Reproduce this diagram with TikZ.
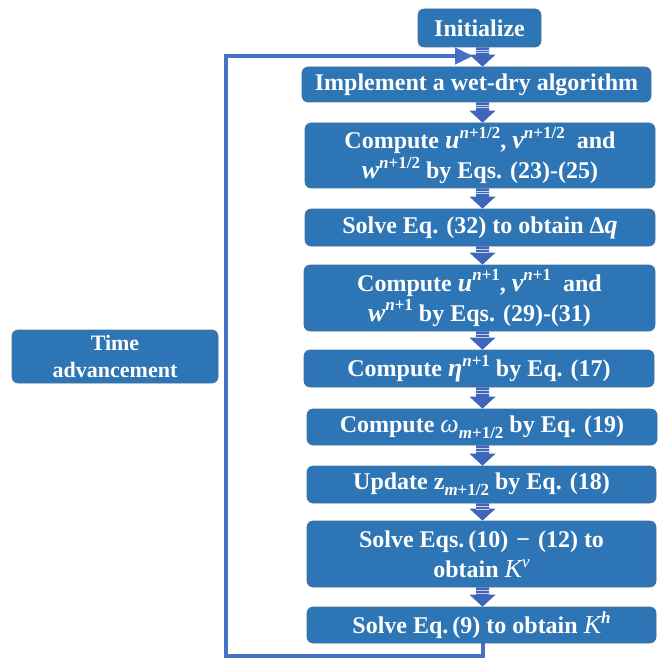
\documentclass[tikz,border=0pt]{standalone}
\usepackage{fontspec}
\setmainfont{Liberation Serif}
\usetikzlibrary{calc,arrows.meta}
\definecolor{boxfill}{RGB}{46,117,182}
\definecolor{boxline}{RGB}{65,113,156}
\definecolor{arrc}{RGB}{63,102,184}
\definecolor{loopc}{RGB}{68,114,196}
\newcommand\bi[1]{{\fontsize{26}{29}\selectfont\bfseries\itshape #1}}
\newcommand\si[1]{{\bfseries\itshape #1}}
\newcommand\sps[1]{\raisebox{0.42em}{\fontsize{17}{19}\selectfont\bfseries #1}}
\newcommand\sbs[1]{\raisebox{-0.25em}{\fontsize{17}{19}\selectfont\bfseries #1}}
\newcommand\blockarr[2]{%
  \fill[arrc] let \p1=(#1.south), \p2=(#2.north) in
    (476pt,\y1) -- (489pt,\y1) -- (489pt,{\y2+12pt}) -- (495.5pt,{\y2+12pt})
    -- (482.5pt,\y2) -- (469.5pt,{\y2+12pt}) -- (476pt,{\y2+12pt}) -- cycle;
  \draw[white!70!arrc,line width=0.6pt] let \p1=(#1.south) in
    (476pt,{\y1-3pt}) -- (489pt,{\y1-3pt})
    (476pt,{\y1-5.5pt}) -- (489pt,{\y1-5.5pt});
}
\begin{document}
\begin{tikzpicture}[
  box/.style={fill=boxfill,draw=boxline,line width=0.6pt,rounded corners=6pt,
    text=white,align=center,inner sep=0pt,
    font=\fontsize{24}{30}\selectfont\bfseries},
  loopline/.style={draw=loopc,line width=4pt}
]
\useasboundingbox (0,0) rectangle (659pt,-658pt);
\node[box,minimum width=123pt,minimum height=38pt] (init) at (479.5pt,-28pt) {Initialize};
\node[box,minimum width=349pt,minimum height=35pt] (wd) at (476.5pt,-84.5pt) {Implement a wet-dry algorithm};
\node[box,minimum width=350pt,minimum height=65pt] (c1) at (480pt,-155.5pt) {Compute \bi{u}\sps{\si{n}+1/2}, \bi{v}\sps{\si{n}+1/2}\ \ and\\ \bi{w}\sps{\si{n}+1/2} by Eqs. (23)-(25)};
\node[box,minimum width=350pt,minimum height=37pt] (s32) at (480pt,-227.5pt) {Solve Eq. (32) to obtain Δ\bi{q}};
\node[box,minimum width=351pt,minimum height=66pt] (c2) at (479.5pt,-298pt) {Compute \bi{u}\sps{\si{n}+1}, \bi{v}\sps{\si{n}+1}\ \ and\\ \bi{w}\sps{\si{n}+1} by Eqs. (29)-(31)};
\node[box,minimum width=350pt,minimum height=37pt] (eta) at (479pt,-368.5pt) {Compute \bi{η}\sps{\si{n}+1} by Eq. (17)};
\node[box,minimum width=350pt,minimum height=36pt] (om) at (482pt,-427pt) {Compute {\fontsize{26}{29}\selectfont\mdseries\itshape ω}\sbs{\si{m}+1/2} by Eq. (19)};
\node[box,minimum width=349pt,minimum height=37pt] (up) at (481.5pt,-484.5pt) {Update z\sbs{\si{m}+1/2} by Eq. (18)};
\node[box,minimum width=349pt,minimum height=66pt] (s10) at (481.5pt,-554pt) {Solve Eqs.\,(10)\,\,−\,\,(12) to\\ obtain {\fontsize{26}{29}\selectfont\mdseries\itshape K}\sps{\mdseries\itshape v}};
\node[box,minimum width=349pt,minimum height=36pt] (s9) at (481.5pt,-625pt) {Solve Eq.\,(9) to obtain {\fontsize{26}{29}\selectfont\mdseries\itshape K}\sps{\si{h}}};
\node[box,minimum width=206pt,minimum height=53pt,font=\fontsize{22}{27}\selectfont\bfseries] (time) at (115pt,-356.5pt) {Time\\ advancement};
\blockarr{init}{wd}
\blockarr{wd}{c1}
\blockarr{c1}{s32}
\blockarr{s32}{c2}
\blockarr{c2}{eta}
\blockarr{eta}{om}
\blockarr{om}{up}
\blockarr{up}{s10}
\blockarr{s10}{s9}
\coordinate (bl) at (226pt,-656pt);
\coordinate (tip) at (473pt,-56pt);
\draw[loopline,-{Triangle[length=18pt,width=16pt]}] (s9.south -| 482.5pt,0) |- (bl) |- (tip);
\end{tikzpicture}
\end{document}
